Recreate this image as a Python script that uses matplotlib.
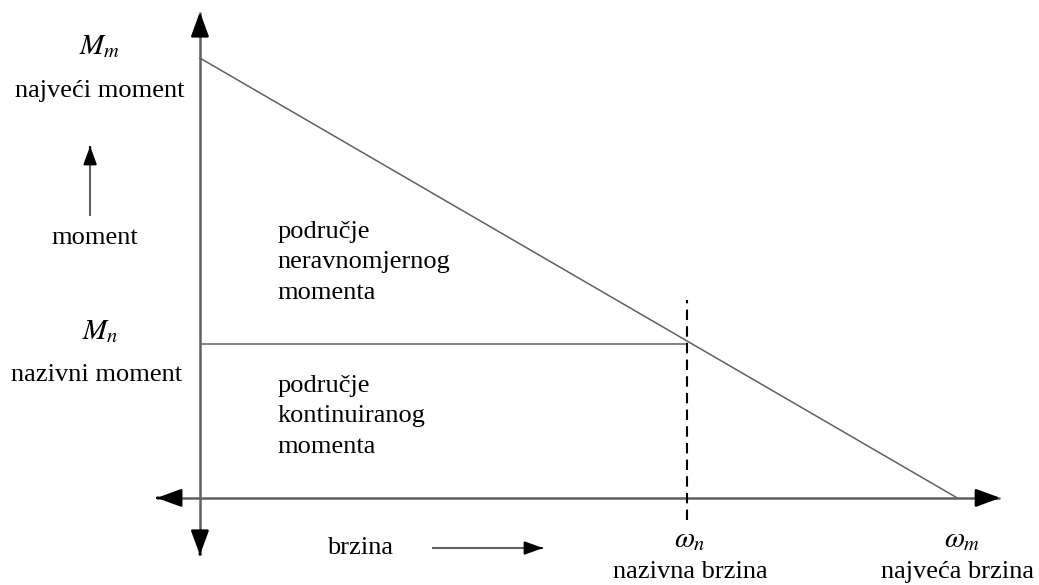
import matplotlib.pyplot as plt

plt.rcParams['font.family'] = ['Liberation Serif', 'DejaVu Serif']
plt.rcParams['mathtext.fontset'] = 'stix'

# values in relative units (max speed = 1, max torque = 1)
w_max = 1.0
M_max = 1.0
w_nom = 0.643
M_nom = 0.35

fig = plt.figure(figsize=(10.39, 5.85), dpi=100)
ax = fig.add_axes([0, 0, 1, 1])
ax.set_xlim(-0.264, 1.108)
ax.set_ylim(-0.198, 1.132)
ax.axis('off')

ax_col = '#606060'


def arrow(x0, y0, x1, y1, lw=1.8, hl=1.5, hw=0.55):
    # gray shaft, black filled head
    ax.plot([x0, x1], [y0, y1], color=ax_col, lw=lw, solid_capstyle='butt')
    dx, dy = (x1 - x0) * 0.02, (y1 - y0) * 0.02
    ax.annotate('', xy=(x1, y1), xytext=(x1 - dx, y1 - dy),
                arrowprops=dict(arrowstyle='-|>,head_length=%s,head_width=%s' % (hl, hw),
                                color='black', lw=lw, shrinkA=0, shrinkB=0))


# axes with arrows at both ends
arrow(0, 0, 0, 1.105)
arrow(0, 0, 0, -0.130)
arrow(0, 0, 1.057, 0)
arrow(0, 0, -0.057, 0)

# torque-speed characteristic
ax.plot([0, w_max], [M_max, 0], color=ax_col, lw=1.1)
ax.plot([0, w_nom], [M_nom, M_nom], color=ax_col, lw=1.1)
ax.plot([w_nom, w_nom], [-0.05, 0.45], color='black', lw=1.5, ls=(0, (5, 3)))

fs = 19
# y-axis labels
ax.text(-0.132, 1.026, r'$M_m$', ha='center', va='center', fontsize=fs + 2)
ax.text(-0.132, 0.925, 'najveći moment', ha='center', va='center', fontsize=fs)
arrow(-0.145, 0.64, -0.145, 0.8, lw=1.5, hl=1.1, hw=0.4)
ax.text(-0.139, 0.591, 'moment', ha='center', va='center', fontsize=fs)
ax.text(-0.132, 0.377, r'$M_n$', ha='center', va='center', fontsize=fs + 2)
ax.text(-0.136, 0.28, 'nazivni moment', ha='center', va='center', fontsize=fs)

# region labels
ax.text(0.102, 0.536, 'područje\nneravnomjernog\nmomenta', ha='left', va='center',
        fontsize=fs, linespacing=1.5)
ax.text(0.102, 0.186, 'područje\nkontinuiranog\nmomenta', ha='left', va='center',
        fontsize=fs, linespacing=1.5)

# x-axis labels
ax.text(0.211, -0.114, 'brzina', ha='center', va='center', fontsize=fs)
arrow(0.307, -0.114, 0.453, -0.114, lw=1.5, hl=1.1, hw=0.4)
ax.text(w_nom + 0.004, -0.095, r'$\omega_n$', ha='center', va='center', fontsize=fs + 2)
ax.text(w_nom + 0.004, -0.168, 'nazivna brzina', ha='center', va='center', fontsize=fs)
ax.text(w_max + 0.007, -0.095, r'$\omega_m$', ha='center', va='center', fontsize=fs + 2)
ax.text(w_max, -0.168, 'najveća brzina', ha='center', va='center', fontsize=fs)

fig.savefig('out.png', dpi=100)
